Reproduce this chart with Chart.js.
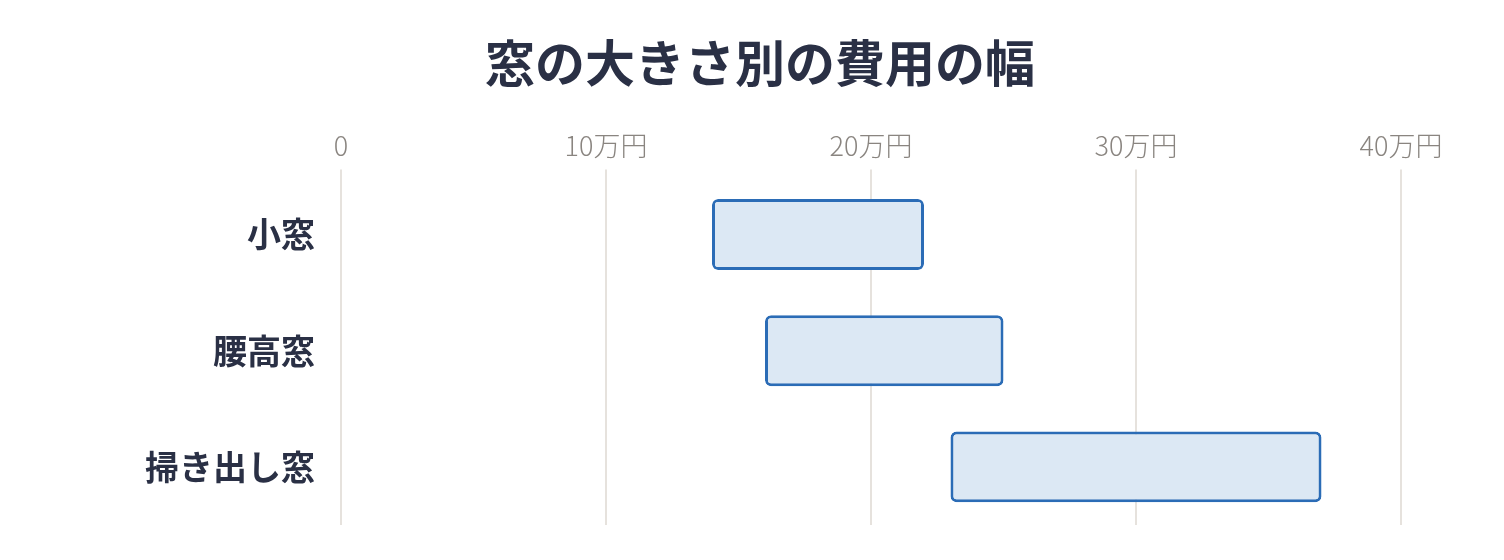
<!DOCTYPE html>
<html lang="ja">
<head>
<meta charset="utf-8">
<title>窓の大きさ別の費用の幅</title>
<script src="https://cdn.jsdelivr.net/npm/chart.js@4"></script>
<style>
  html, body { margin: 0; padding: 0; background: #fff; overflow: hidden; }
  canvas { display: block; }
</style>
</head>
<body>
<canvas id="rangeChart" width="1504" height="560"></canvas>
<script>
// data (万円)
const windowTypes = ["小窓", "腰高窓", "掃き出し窓"];
const costLow = [14, 16, 23];
const costHigh = [22, 25, 37];
const tickValues = [0, 10, 20, 30, 40];

const ranges = windowTypes.map((_, i) => [costLow[i], costHigh[i]]);

document.addEventListener("DOMContentLoaded", () => {
  const ctx = document.getElementById("rangeChart").getContext("2d");
  new Chart(ctx, {
    type: "bar",
    data: {
      labels: windowTypes,
      datasets: [
        {
          label: "費用の幅",
          data: ranges,
          backgroundColor: "#dce8f4",
          borderColor: "#2b6cb6",
          borderWidth: 3,
          borderRadius: 6,
          borderSkipped: false,
          categoryPercentage: 1,
          barPercentage: 0.61,
        },
      ],
    },
    options: {
      indexAxis: "y",
      responsive: false,
      devicePixelRatio: 1,
      animation: false,
      layout: { padding: { left: 119, right: 103, top: 10, bottom: 35 } },
      plugins: {
        legend: { display: false },
        tooltip: { enabled: false },
        title: {
          display: true,
          text: "窓の大きさ別の費用の幅",
          color: "#2a3045",
          font: { family: "'Noto Sans CJK JP'", size: 50, weight: "bold" },
          padding: { top: 23, bottom: 30 },
        },
      },
      scales: {
        x: {
          position: "top",
          min: 0,
          max: 40,
          afterBuildTicks: (axis) => {
            axis.ticks = tickValues.map((v) => ({ value: v }));
          },
          border: { display: false },
          grid: { color: "#e6e2dd", lineWidth: 2, drawTicks: true, tickLength: 7 },
          ticks: {
            padding: 7,
            color: "#8a8580",
            font: { family: "'Noto Sans CJK JP'", size: 27, weight: 300 },
            callback: (v) => (v === 0 ? "0" : v + "万円"),
          },
        },
        y: {
          // label padding should not eat into the bottom of the plot
          afterFit: (axis) => {
            axis.paddingTop = 0;
            axis.paddingBottom = 0;
          },
          border: { display: false },
          grid: { display: false, drawTicks: false },
          ticks: {
            padding: 26,
            color: "#2a3045",
            font: { family: "'Noto Sans CJK JP'", size: 34, weight: "bold" },
          },
        },
      },
    },
  });
});
</script>
</body>
</html>
